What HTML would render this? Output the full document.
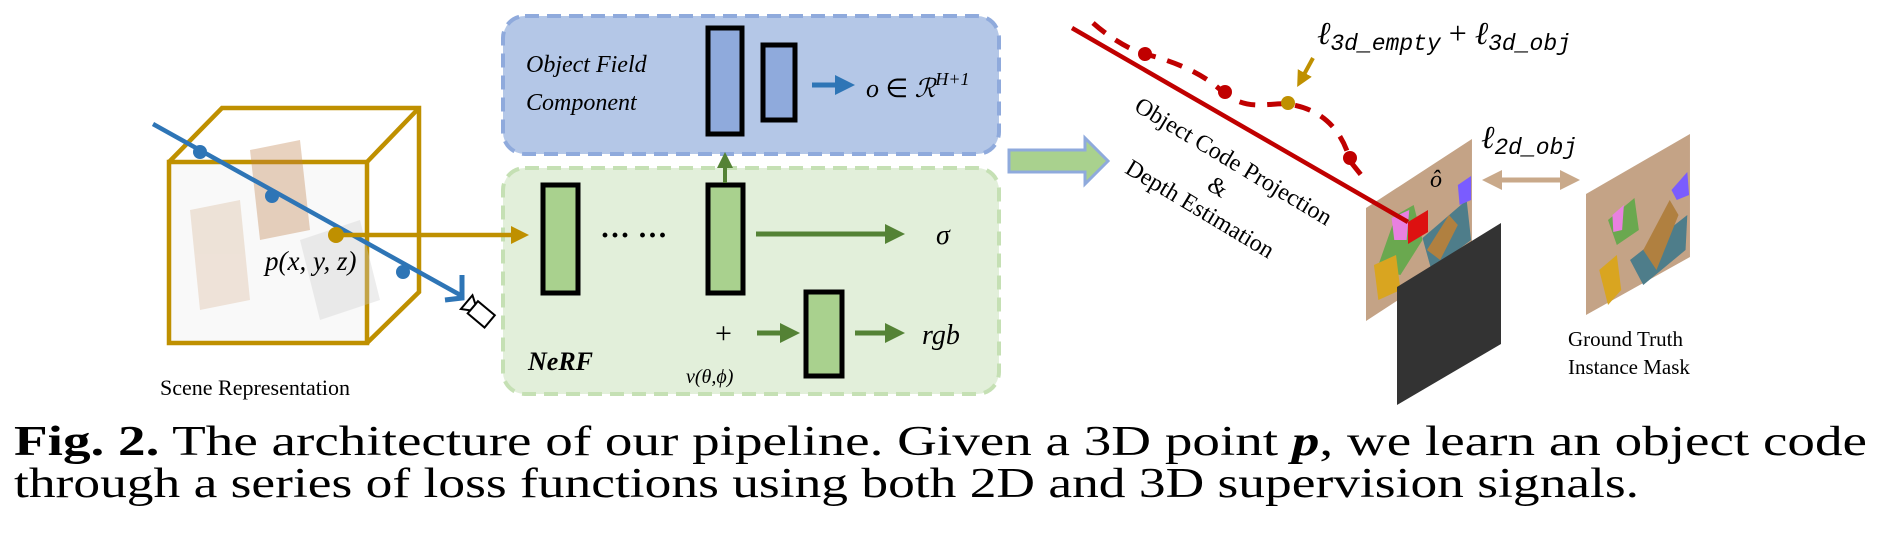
<!DOCTYPE html>
<html><head><meta charset="utf-8"><style>
html,body{margin:0;padding:0;background:#fff;width:1883px;height:542px;overflow:hidden}
svg{display:block}
.it{font-family:"Liberation Serif",serif;font-style:italic}
</style></head><body>
<svg width="1883" height="542" viewBox="0 0 1883 542" xmlns="http://www.w3.org/2000/svg">
<defs>
<marker id="ag" markerWidth="4" markerHeight="4" refX="2" refY="2" orient="auto"><path d="M0,0 L4,2 L0,4z" fill="#548235"/></marker>
<marker id="ab" markerWidth="4" markerHeight="4" refX="2" refY="2" orient="auto"><path d="M0,0 L4,2 L0,4z" fill="#2e75b6"/></marker>
<marker id="ao" markerWidth="4" markerHeight="4" refX="2" refY="2" orient="auto"><path d="M0,0 L4,2 L0,4z" fill="#bf9000"/></marker>
<marker id="at" markerWidth="4" markerHeight="4" refX="2" refY="2" orient="auto"><path d="M0,0 L4,2 L0,4z" fill="#c9a98a"/></marker>
<marker id="at2" markerWidth="4" markerHeight="4" refX="2" refY="2" orient="auto-start-reverse"><path d="M0,0 L4,2 L0,4z" fill="#c9a98a"/></marker>
</defs>

<!-- Blue box -->
<rect x="503" y="16" width="496" height="138" rx="22" fill="#b4c7e7" stroke="#8faadc" stroke-width="4" stroke-dasharray="14,8"/>
<text class="it" x="526" y="72" font-size="24">Object Field</text>
<text class="it" x="526" y="110" font-size="24">Component</text>
<rect x="708" y="28" width="34" height="106" fill="#8faadc" stroke="#000" stroke-width="5"/>
<rect x="763" y="45" width="32" height="75" fill="#8faadc" stroke="#000" stroke-width="5"/>
<line x1="812" y1="85" x2="845" y2="85" stroke="#2e75b6" stroke-width="5" marker-end="url(#ab)"/>
<text class="it" x="866" y="97" font-size="26">o <tspan font-style="normal">∈</tspan> ℛ<tspan font-size="18" dy="-12">H+1</tspan></text>

<!-- Green box -->
<rect x="503" y="168" width="496" height="226" rx="22" fill="#e2efda" stroke="#c5e0b4" stroke-width="4" stroke-dasharray="14,8"/>
<rect x="543" y="185" width="35" height="108" fill="#a9d18e" stroke="#000" stroke-width="5"/>
<rect x="708" y="185" width="35" height="108" fill="#a9d18e" stroke="#000" stroke-width="5"/>
<rect x="806" y="292" width="36" height="84" fill="#a9d18e" stroke="#000" stroke-width="5"/>
<line x1="725" y1="183" x2="725" y2="160" stroke="#548235" stroke-width="4" marker-end="url(#ag)"/>
<text x="600" y="245" font-family="Liberation Serif,serif" font-size="30" font-weight="bold">··· ···</text>
<line x1="756" y1="234" x2="895" y2="234" stroke="#548235" stroke-width="5" marker-end="url(#ag)"/>
<text class="it" x="936" y="244" font-size="28">σ</text>
<text x="715" y="343" font-family="Liberation Serif,serif" font-size="30">+</text>
<line x1="757" y1="333" x2="790" y2="333" stroke="#548235" stroke-width="5" marker-end="url(#ag)"/>
<line x1="855" y1="333" x2="895" y2="333" stroke="#548235" stroke-width="5" marker-end="url(#ag)"/>
<text class="it" x="922" y="344" font-size="28">rgb</text>
<text class="it" x="528" y="370" font-size="26" font-weight="bold">NeRF</text>
<text class="it" x="686" y="383" font-size="20">v(θ,ϕ)</text>

<!-- Cube -->
<g fill="none" stroke="#bf9000" stroke-width="4.5">
<rect x="169" y="162" width="198" height="181" fill="#f4f4f4" fill-opacity="0.5"/>
<polyline points="169,162 222,108 419,108 419,292 367,343"/>
<line x1="367" y1="162" x2="419" y2="108"/>
</g>
<g opacity="0.35">
<polygon points="250,150 300,140 310,230 260,240" fill="#c0804a"/>
<polygon points="190,210 240,200 250,300 200,310" fill="#d9b89a"/>
<polygon points="300,240 360,220 380,300 320,320" fill="#ccc"/>
</g>
<line x1="153" y1="124" x2="462" y2="296" stroke="#2e75b6" stroke-width="4.5"/>
<path d="M462,275 L462,298 L445,300" fill="none" stroke="#2e75b6" stroke-width="5"/>
<g transform="translate(482,315) rotate(40)"><rect x="-12" y="-8" width="22" height="16" fill="#fff" stroke="#000" stroke-width="2"/><polygon points="-12,-4 -20,-9 -20,9 -12,4" fill="#fff" stroke="#000" stroke-width="2"/></g>
<circle cx="200" cy="152" r="7" fill="#2e75b6"/>
<circle cx="272" cy="196" r="7" fill="#2e75b6"/>
<circle cx="403" cy="272" r="7" fill="#2e75b6"/>
<line x1="336" y1="235" x2="520" y2="235" stroke="#bf9000" stroke-width="4.5" marker-end="url(#ao)"/>
<circle cx="336" cy="235" r="8" fill="#bf9000"/>
<text class="it" x="265" y="270" font-size="27">p(x, y, z)</text>
<text x="160" y="395" font-family="Liberation Serif,serif" font-size="22">Scene Representation</text>

<!-- hollow arrow -->
<polygon points="1009,150 1085,150 1085,138 1108,161 1085,184 1085,172 1009,172" fill="#a9d18e" stroke="#8faadc" stroke-width="3"/>

<!-- panels -->
<g transform="translate(1366,0) scale(0.883,1) translate(-1416,0)">
<polygon points="1416,208 1536,139 1536,252 1416,321" fill="#c4a386"/>
<polygon points="1428,270 1450,215 1470,205 1480,240 1455,275" fill="#6aa84f"/>
<polygon points="1480,238 1530,200 1535,240 1490,270" fill="#4e7d8a"/>
<polygon points="1485,250 1510,215 1520,225 1500,260" fill="#b08040"/>
<polygon points="1425,265 1450,255 1455,290 1430,300" fill="#d9a520"/>
<polygon points="1445,218 1465,210 1462,240 1448,240" fill="#e880e0"/>
<polygon points="1520,185 1535,176 1535,200 1522,205" fill="#7a5cff"/>
</g>
<polygon points="1408,222 1428,210 1428,232 1408,244" fill="#dd1111"/>
<text class="it" x="1430" y="187" font-size="24">ô</text>
<polygon points="1397,287 1501,223 1501,344 1397,405" fill="#333"/>
<g transform="translate(1586,0) scale(0.881,1) translate(-1665,0)">
<polygon points="1665,194 1783,134 1783,257 1665,315" fill="#c4a386"/>
<polygon points="1680,270 1700,255 1705,290 1690,305" fill="#d9a520"/>
<polygon points="1715,260 1780,215 1778,250 1730,285" fill="#4e7d8a"/>
<polygon points="1730,250 1760,200 1770,215 1745,270" fill="#b08040"/>
<polygon points="1690,220 1720,198 1725,230 1700,245" fill="#6aa84f"/>
<polygon points="1695,215 1708,205 1706,230 1696,232" fill="#e880e0"/>
<polygon points="1762,190 1780,172 1782,195 1768,200" fill="#7a5cff"/>
</g>

<!-- red lines -->
<line x1="1072" y1="28" x2="1408" y2="222" stroke="#c00000" stroke-width="4.5"/>
<path d="M1093,23 C1110,38 1130,50 1145,54 C1200,68 1218,88 1225,94 C1250,112 1270,102 1288,104 C1330,110 1345,140 1350,161 L1366,181" fill="none" stroke="#c00000" stroke-width="5" stroke-dasharray="16,12"/>
<circle cx="1145" cy="54" r="7" fill="#c00000"/>
<circle cx="1225" cy="92" r="7" fill="#c00000"/>
<circle cx="1350" cy="158" r="7" fill="#c00000"/>
<circle cx="1288" cy="103" r="7" fill="#bf9000"/>
<line x1="1313" y1="58" x2="1301" y2="80" stroke="#bf9000" stroke-width="4" marker-end="url(#ao)"/>
<text class="it" x="1317" y="44" font-size="32">ℓ<tspan font-size="23" dy="6" font-family="Liberation Mono,monospace">3d_empty</tspan><tspan dy="-6" font-style="normal"> + </tspan>ℓ<tspan font-size="23" dy="6" font-family="Liberation Mono,monospace">3d_obj</tspan></text>
<text class="it" x="1481" y="148" font-size="32">ℓ<tspan font-size="23" dy="6" font-family="Liberation Mono,monospace">2d_obj</tspan></text>
<g transform="translate(1133,110) rotate(31)" font-family="Liberation Serif,serif" font-size="24">
<text x="0" y="0">Object Code Projection</text>
<text x="103" y="30">&amp;</text>
<text x="24" y="58">Depth Estimation</text>
</g>

<line x1="1492" y1="180" x2="1570" y2="180" stroke="#c9a98a" stroke-width="5" marker-start="url(#at2)" marker-end="url(#at)"/>
<text x="1568" y="346" font-family="Liberation Serif,serif" font-size="21">Ground Truth</text>
<text x="1568" y="374" font-family="Liberation Serif,serif" font-size="21">Instance Mask</text>

<!-- caption -->
<text x="14" y="455" font-family="Liberation Serif,serif" font-size="42" textLength="1853" lengthAdjust="spacingAndGlyphs"><tspan font-weight="bold">Fig. 2.</tspan> The architecture of our pipeline. Given a 3D point <tspan font-weight="bold" font-style="italic">p</tspan>, we learn an object code</text>
<text x="14" y="497" font-family="Liberation Serif,serif" font-size="42" textLength="1625" lengthAdjust="spacingAndGlyphs">through a series of loss functions using both 2D and 3D supervision signals.</text>
</svg>
</body></html>
